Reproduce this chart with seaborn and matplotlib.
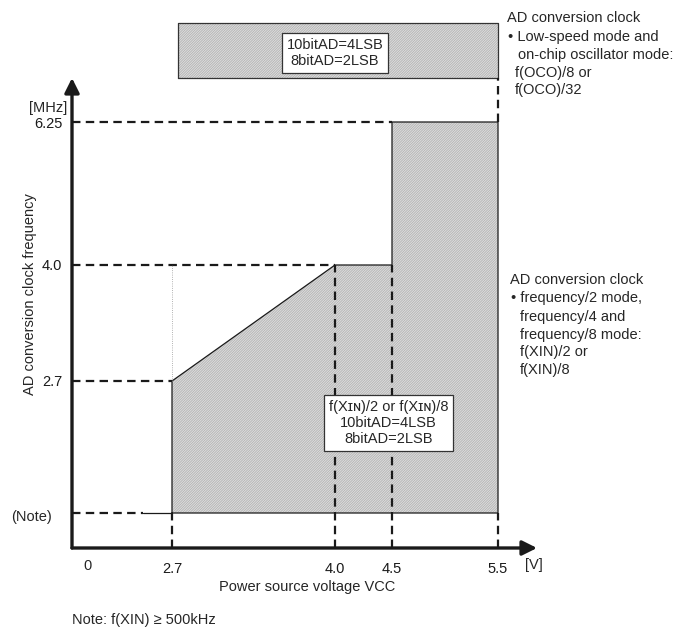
import numpy as np
import pandas as pd
import matplotlib.pyplot as plt
import seaborn as sns

# chart values
volt_ticks = [2.7, 4.0, 4.5, 5.5]
volt_labels = ["2.7", "4.0", "4.5", "5.5"]
freq_ticks = [2.7, 4.0, 6.25]
freq_labels = ["2.7", "4.0", "6.25"]
note_freq = 0.5  # f(XIN) >= 500kHz

# operating region (volts, MHz)
region_v = [2.7, 2.7, 4.0, 4.5, 4.5, 5.5, 5.5, 2.7]
region_f = [0.5, 2.7, 4.0, 4.0, 6.25, 6.25, 0.5, 0.5]

# low-speed / on-chip oscillator band above the chart
oco_v = [2.75, 5.5, 5.5, 2.75]
oco_f = [7.0, 7.0, 8.0, 8.0]

# schematic (not to scale) axes: data value -> pixel position
X_KNOTS = [0.0, 2.7, 4.0, 4.5, 5.5, 5.87]
X_POS = [72, 172, 335, 392, 498, 537]
Y_KNOTS = [0.0, 0.5, 2.7, 4.0, 6.25, 7.0, 8.0]
Y_POS = [82, 117, 249, 365, 508, 552, 607]

W, H = 677, 630


def fx(p):
    return p / W


def fy(p):
    return 1 - p / H


sns.set_theme(style="white")
plt.rcParams['font.family'] = ['Liberation Sans', 'DejaVu Sans']
plt.rcParams['hatch.linewidth'] = 0.45

fig = plt.figure(figsize=(6.77, 6.3), dpi=100)
ax = fig.add_axes([fx(72), fy(548), (537 - 72) / W, (548 - 78) / H])
ax.set_xscale('function', functions=(lambda v: np.interp(v, X_KNOTS, X_POS),
                                     lambda p: np.interp(p, X_POS, X_KNOTS)))
ax.set_yscale('function', functions=(lambda v: np.interp(v, Y_KNOTS, Y_POS),
                                     lambda p: np.interp(p, Y_POS, Y_KNOTS)))
ax.set_xlim(0, 5.87)
ax.set_ylim(0, 7.0)
for s in ax.spines.values():
    s.set_visible(False)

hatch = '/' * 20
dash = (0, (3.8, 2.4))

# hatched areas
ax.fill(region_v, region_f, facecolor='white', edgecolor='#9a9a9a', hatch=hatch, lw=0)
ax.fill(oco_v, oco_f, facecolor='white', edgecolor='#9a9a9a', hatch=hatch, lw=0, clip_on=False)
df = pd.DataFrame({"v": region_v, "f": region_f})
sns.lineplot(data=df, x="v", y="f", sort=False, estimator=None, color='k', lw=0.9, ax=ax)
ax.plot(oco_v + [oco_v[0]], oco_f + [oco_f[0]], color='#333333', lw=0.9, clip_on=False)

# guide lines
ax.plot([0, 4.5], [6.25, 6.25], color='k', lw=1.6, ls=dash)
ax.plot([0, 4.0], [4.0, 4.0], color='k', lw=1.6, ls=dash)
ax.plot([0, 2.7], [2.7, 2.7], color='k', lw=1.6, ls=dash)
ax.plot([0, 1.92], [note_freq, note_freq], color='k', lw=1.6, ls=dash)
ax.plot([1.92, 2.7], [note_freq, note_freq], color='k', lw=0.9)
ax.plot([2.7, 2.7], [0, note_freq], color='k', lw=1.6, ls=dash)
ax.plot([4.0, 4.0], [0, 4.0], color='k', lw=1.6, ls=dash)
ax.plot([4.5, 4.5], [0, 4.0], color='k', lw=1.6, ls=dash)
ax.plot([5.5, 5.5], [0, note_freq], color='k', lw=1.6, ls=dash)
ax.plot([5.5, 5.5], [6.25, 7.0], color='k', lw=1.6, ls=dash, clip_on=False)
ax.plot([2.7, 2.7], [2.7, 4.0], color='#999999', lw=0.6, ls=':')

# axes with arrows
ax.annotate('', xy=(1, 0), xytext=(0, 0), xycoords='axes fraction',
            arrowprops=dict(arrowstyle='-|>', lw=2.4, color='k', mutation_scale=22,
                            shrinkA=0, shrinkB=0))
ax.annotate('', xy=(0, 1), xytext=(0, 0), xycoords='axes fraction',
            arrowprops=dict(arrowstyle='-|>', lw=2.4, color='k', mutation_scale=22,
                            shrinkA=0, shrinkB=0))

ax.set_xticks(volt_ticks, volt_labels)
ax.set_yticks(freq_ticks, freq_labels)
ax.tick_params(axis='both', length=4, width=1.5, color='k', labelsize=10.5, labelcolor='k')
ax.tick_params(axis='x', pad=6)
ax.tick_params(axis='y', pad=3)
ax.set_xlabel("")
ax.set_ylabel("")

# boxed labels
box = dict(boxstyle='square,pad=0.35', fc='white', ec='#333333', lw=0.9)
ax.text(4.0, 7.46, "10bitAD=4LSB\n8bitAD=2LSB", ha='center', va='center',
        fontsize=10.5, linespacing=1.15, bbox=box, clip_on=False)
ax.text(4.47, 2.0, "f(X\u026a\u0274)/2 or f(X\u026a\u0274)/8\n10bitAD=4LSB\n8bitAD=2LSB",
        ha='center', va='center', fontsize=10.5, linespacing=1.15, bbox=box)

# axis annotations
fig.text(fx(48), fy(108), "[MHz]", ha='center', va='center', fontsize=10.5)
fig.text(fx(32), fy(517), "(Note)", ha='center', va='center', fontsize=10.5)
fig.text(fx(88), fy(566), "0", ha='center', va='center', fontsize=10.5)
fig.text(fx(534), fy(565), "[V]", ha='center', va='center', fontsize=10.5)
fig.text(fx(307), fy(587), "Power source voltage VCC", ha='center', va='center', fontsize=10.5)
fig.text(fx(30), fy(294), "AD conversion clock frequency", ha='center', va='center',
         rotation=90, fontsize=10.5)
fig.text(fx(72), fy(620), "Note: f(XIN) \u2265 500kHz", ha='left', va='center', fontsize=10.5)

notes = [
    (507, 18, "AD conversion clock"),
    (508, 37, "\u2022 Low-speed mode and"),
    (518, 55, "on-chip oscillator mode:"),
    (515, 73, "f(OCO)/8 or"),
    (515, 90, "f(OCO)/32"),
    (510, 280, "AD conversion clock"),
    (511, 298, "\u2022 frequency/2 mode,"),
    (520, 317, "frequency/4 and"),
    (520, 335, "frequency/8 mode:"),
    (520, 352, "f(XIN)/2 or"),
    (520, 370, "f(XIN)/8"),
]
for x, y, t in notes:
    fig.text(fx(x), fy(y), t, ha='left', va='center', fontsize=10.5)

fig.savefig("out.png", dpi=100)
